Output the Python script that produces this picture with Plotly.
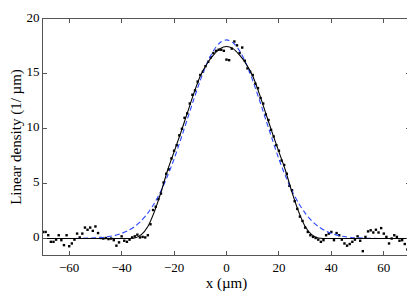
import plotly.graph_objects as go

# Measured linear density (points), x in µm
X_DATA = [-70, -69, -68, -67, -66, -65, -64, -63, -62, -61, -60, -59, -58, -57, -56, -55,
          -54, -53, -52, -51, -50, -49, -48, -47, -46, -45, -44, -43, -42, -41, -40, -39,
          -38, -37, -36, -35, -34, -33, -32, -31, -30, -29, -28, -27, -26, -25, -24, -23,
          -22, -21, -20, -19, -18, -17, -16, -15, -14, -13, -12, -11, -10, -9, -8, -7,
          -6, -5, -4, -3, -2, -1, 0, 1, 2, 3, 4, 5, 6, 7, 8, 9, 10, 11, 12, 13, 14, 15,
          16, 17, 18, 19, 20, 21, 22, 23, 24, 25, 26, 27, 28, 29, 30, 31, 32, 33, 34, 35,
          36, 37, 38, 39, 40, 41, 42, 43, 44, 45, 46, 47, 48, 49, 50, 51, 52, 53, 54, 55,
          56, 57, 58, 59, 60, 61, 62, 63, 64, 65, 66, 67, 68, 69, 70]
Y_DATA = [0.6, 0.6, 0.3, -0.3, -0.3, -0.1, 0.3, -0.15, -0.6, 0.3, -0.7, -0.45, -0.1, 0.45, 0.1, 0.45,
          1.0, 0.8, 1.0, 0.7, 1.1, 0.5, 0.05, 0.0, 0.05, -0.05, 0.0, -0.15, -0.65, -0.35, 0.2, -0.2,
          -0.3, -0.1, 0.1, 0.2, 0.35, 0.1, 0.15, 0.1, 0.3, 1.3, 2.6, 2.9, 3.6, 4.1, 5.1, 5.9,
          6.3, 7.3, 8.0, 8.5, 9.4, 10.0, 11.0, 11.4, 12.3, 13.1, 13.5, 14.3, 14.9, 15.2, 15.7, 16.1,
          16.5, 16.9, 17.1, 17.2, 17.2, 17.1, 16.3, 16.25, 17.3, 17.95, 17.6, 16.9, 17.4, 16.2, 15.5, 15.2,
          14.9, 14.1, 13.7, 12.8, 12.3, 11.3, 10.8, 9.9, 9.3, 8.5, 8.0, 7.1, 6.7, 5.9, 4.8, 4.4,
          3.4, 2.7, 2.0, 1.6, 1.0, 0.6, 0.3, 0.15, 0.05, -0.1, -0.3, -0.15, 0.3, 0.45, 0.6, -0.15,
          0.5, 0.3, -0.1, -0.45, -0.65, -0.5, -0.3, -0.1, 0.2, -0.2, -1.15, 0.15, 0.65, 0.75, 0.55, 0.8,
          0.55, 0.95, 0.45, 0.15, -0.45, 0.0, 0.3, 0.15, -0.2, -0.15, -0.5, -1.0, -0.3]

# Solid black fit
FIT_X = [-70, -60, -50, -40, -37.5, -35, -32.5, -30, -27.5, -25, -22.5, -20, -17.5, -15, -12.5,
         -10, -7.5, -5, -2.5, 0, 2.5, 5, 7.5, 10, 12.5, 15, 17.5, 20, 22.5, 25, 27.5, 30, 32.5,
         35, 37.5, 40, 50, 60, 70]
FIT_Y = [0, 0, 0, 0, 0, 0.05, 0.35, 1.1, 2.45, 4.2, 6.2, 7.9, 9.6, 11.4, 13.2,
         14.8, 15.9, 16.7, 17.3, 17.5, 17.3, 16.7, 15.9, 14.8, 13.2, 11.4, 9.6, 7.9, 6.2, 4.2, 2.45,
         1.1, 0.35, 0.05, 0, 0, 0, 0, 0]

# Dashed blue Gaussian fit
GAUSS_X = [-70, -60, -55, -50, -47.5, -45, -42.5, -40, -37.5, -35, -32.5, -30, -27.5, -25, -22.5,
           -20, -17.5, -15, -12.5, -10, -7.5, -5, -2.5, 0, 2.5, 5, 7.5, 10, 12.5, 15, 17.5, 20,
           22.5, 25, 27.5, 30, 32.5, 35, 37.5, 40, 42.5, 45, 47.5, 50, 55, 60, 70]
GAUSS_Y = [0, 0.005, 0.02, 0.06, 0.1, 0.18, 0.29, 0.47, 0.73, 1.10, 1.62, 2.32, 3.22, 4.34, 5.69,
           7.24, 9.00, 10.83, 12.67, 14.41, 15.92, 17.10, 17.84, 18.1, 17.84, 17.10, 15.92, 14.41,
           12.67, 10.83, 9.00, 7.24, 5.69, 4.34, 3.22, 2.32, 1.62, 1.10, 0.73, 0.47, 0.29, 0.18, 0.1,
           0.06, 0.02, 0.005, 0]

X_TICKS = [-60, -40, -20, 0, 20, 40, 60]
X_TICKTEXT = ["\u221260", "\u221240", "\u221220", "0", "20", "40", "60"]
Y_TICKS = [0, 5, 10, 15, 20]

assert len(X_DATA) == len(Y_DATA)

font_family = "Liberation Serif"

fig = go.Figure()
fig.add_trace(go.Scatter(x=X_DATA, y=Y_DATA, mode="markers",
                         marker=dict(color="black", size=2.4, symbol="square"),
                         showlegend=False, cliponaxis=True))
fig.add_trace(go.Scatter(x=GAUSS_X, y=GAUSS_Y, mode="lines",
                         line=dict(color="rgb(40,70,255)", width=1.1, dash="5px,3px", shape="spline",
                                   smoothing=0.8),
                         showlegend=False))
fig.add_trace(go.Scatter(x=FIT_X, y=FIT_Y, mode="lines",
                         line=dict(color="black", width=1.1, shape="spline", smoothing=0.8),
                         showlegend=False))

axis_common = dict(showline=True, linecolor="#555555", linewidth=1, mirror="allticks",
                   ticks="inside", ticklen=4, tickcolor="#555555", showgrid=False,
                   zeroline=False, ticklabeloverflow="allow",
                   tickfont=dict(family=font_family, size=13, color="black"))

# The page body has an 8px default margin, so the figure is offset by 8px.
fig.update_layout(
    width=407, height=284,
    margin=dict(l=35, r=5, t=2, b=37),
    paper_bgcolor="white", plot_bgcolor="white",
    font=dict(family=font_family, color="black"),
    xaxis=dict(range=[-70, 70], tickvals=X_TICKS, ticktext=X_TICKTEXT,
               title=dict(text="x (\u00b5m)", font=dict(family=font_family, size=15), standoff=0),
               **axis_common),
    yaxis=dict(range=[-1.5, 20], tickvals=Y_TICKS, ticklabelshift=-2,
               title=dict(text="Linear density (1/ \u00b5m)", font=dict(family=font_family, size=15),
                          standoff=4),
               **axis_common),
)

fig.write_html("out.html")
